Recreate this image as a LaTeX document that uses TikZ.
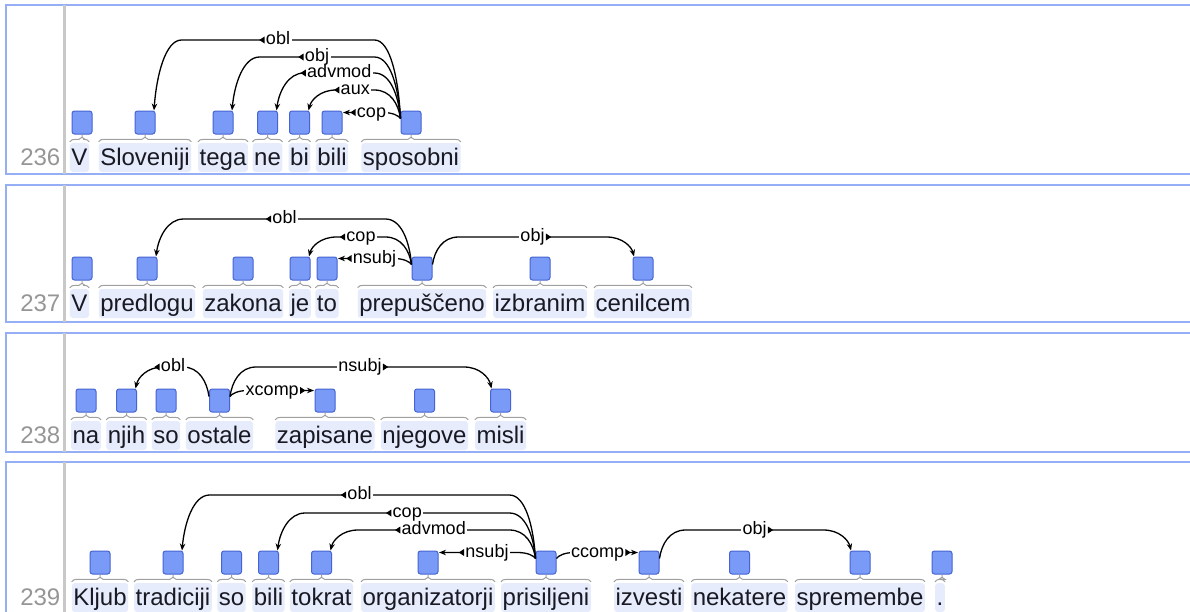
\documentclass[tikz,border=0pt]{standalone}
\usepackage{fontspec}
\setmainfont{Liberation Sans}
\usetikzlibrary{calc,arrows.meta}
\definecolor{panelc}{RGB}{150,174,245}
\definecolor{divc}{RGB}{200,200,200}
\definecolor{wordbg}{RGB}{230,236,252}
\definecolor{tokfill}{RGB}{122,154,247}
\definecolor{tokdraw}{RGB}{70,100,212}
\definecolor{brkc}{RGB}{160,160,160}
\definecolor{numc}{RGB}{150,150,150}
\definecolor{txtc}{RGB}{25,25,35}
\tikzset{
 panel/.style={draw=panelc, line width=2pt, fill=white},
 divider/.style={draw=divc, line width=3pt},
 wordbox/.style={fill=wordbg, rounded corners=3pt, inner xsep=1.5pt, inner ysep=4.5pt, text height=18pt, text depth=2pt, font=\fontsize{24}{28}\selectfont, text=txtc},
 lnum/.style={anchor=east, inner xsep=0pt, inner ysep=4.5pt, text height=18pt, text depth=2pt, font=\fontsize{24}{28}\selectfont, text=numc},
 tokbox/.style={draw=tokdraw, fill=tokfill, line width=1pt, rounded corners=2.5pt, minimum width=20pt, minimum height=23pt, inner sep=0pt},
 brk/.style={draw=brkc, line width=1pt},
 deparc/.style={draw=black, line width=1.3pt, -{Stealth[length=7pt,width=5.5pt]}},
 deplab/.style={fill=white, inner xsep=1.5pt, inner ysep=1pt, text height=9.5pt, text depth=0pt, font=\fontsize{18}{20}\selectfont, text=black},
}
% token: name, node x, word x, node top (px), word
\newcommand\tokx[5]{%
 \node[tokbox] (#1) at (#2,{#4+11.5}) {};
 \node[wordbox] (#1w) at (#3,{#4+46.5}) {#5};
 \draw[brk] let \p1=(#1w.north west), \p2=(#1w.north east), \p3=(#1.south) in
   (\x3,\y3) -- (\x3,\y1+5.5pt)
   (\x1,\y1+1pt) .. controls (\x1+1pt,\y1+3pt) and (\x1+3pt,\y1+3.5pt) .. (\x1+6pt,\y1+3.5pt)
   -- (\x3-3pt,\y1+3.5pt) -- (\x3,\y1+5.5pt) -- (\x3+3pt,\y1+3.5pt) -- (\x2-6pt,\y1+3.5pt)
   .. controls (\x2-3pt,\y1+3.5pt) and (\x2-1pt,\y1+3pt) .. (\x2,\y1+1pt);
}
\newcommand\tok[4]{\tokx{#1}{#2}{#2}{#3}{#4}}
\newcommand\deplabL[4]{%
 \path let \p1=($(#1.north)!0.5!(#2.north)$) in node[deplab] (#1#2l) at (\x1,-#3pt) {#4};
 \fill let \p1=(#1#2l.west) in (\x1+0.3pt,\y1+3.5pt) -- (\x1-5pt,\y1) -- (\x1+0.3pt,\y1-3.5pt) -- cycle;}
\newcommand\deplabR[4]{%
 \path let \p1=($(#1.north)!0.5!(#2.north)$) in node[deplab] (#1#2l) at (\x1,-#3pt) {#4};
 \fill let \p1=(#1#2l.east) in (\x1-0.3pt,\y1+3.5pt) -- (\x1+5pt,\y1) -- (\x1-0.3pt,\y1-3.5pt) -- cycle;}
% arcs: head, dependent, level (px), label
\newcommand\arcLT[4]{%
 \draw[deparc] let \p1=(#1.north west), \p2=(#2.north east) in
  (\x1,\y1-8pt) .. controls (\x1-2pt,{(\y1-8pt-#3pt)/2}) and (\x1-10pt,-#3pt) .. (\x1-26pt,-#3pt)
  -- (\x2+26pt,-#3pt) .. controls (\x2+10pt,-#3pt) and (\x2+1pt,{(\y2-#3pt)/2}) .. (\x2-1.5pt,\y2);
 \deplabL{#1}{#2}{#3}{#4}}
\newcommand\arcLS[4]{%
 \draw[deparc] let \p1=(#1.north west), \p2=(#2.north east) in
  (\x1,\y1-8pt) .. controls (\x1-2pt,{(\y1-8pt-#3pt)/2}) and (\x1-8pt,-#3pt) .. (\x1-18pt,-#3pt) -- (\x2+0.5pt,-#3pt);
 \deplabL{#1}{#2}{#3}{#4}}
\newcommand\arcRT[4]{%
 \draw[deparc] let \p1=(#1.north east), \p2=(#2.north west) in
  (\x1,\y1-8pt) .. controls (\x1+2pt,{(\y1-8pt-#3pt)/2}) and (\x1+10pt,-#3pt) .. (\x1+26pt,-#3pt)
  -- (\x2-26pt,-#3pt) .. controls (\x2-10pt,-#3pt) and (\x2-1pt,{(\y2-#3pt)/2}) .. (\x2+1.5pt,\y2);
 \deplabR{#1}{#2}{#3}{#4}}
\newcommand\arcRS[4]{%
 \draw[deparc] let \p1=(#1.north east), \p2=(#2.north west) in
  (\x1,\y1-8pt) .. controls (\x1+2pt,{(\y1-8pt-#3pt)/2}) and (\x1+8pt,-#3pt) .. (\x1+18pt,-#3pt) -- (\x2-0.5pt,-#3pt);
 \deplabR{#1}{#2}{#3}{#4}}
\newcommand\panelbox[2]{%
 \draw[panel] (6,#1) rectangle (1200,#2);
 \draw[divider] (64,#1) -- (64,#2);}
\begin{document}
\begin{tikzpicture}[x=1pt,y=-1pt]
\useasboundingbox (0,0) rectangle (1190,611);
\clip (0,0) rectangle (1190,611);
\fill[white] (0,0) rectangle (1190,611);
% ---------- 236
\panelbox{5}{174}
\node[lnum] (n236) at (60.5,157.5) {236};
\tokx{a1}{82}{79.5}{111}{V}
\tok{a2}{145}{111}{Sloveniji}
\tok{a3}{223}{111}{tega}
\tok{a4}{267.5}{111}{ne}
\tok{a5}{299.5}{111}{bi}
\tok{a6}{332}{111}{bili}
\tok{a7}{411}{111}{sposobni}
\arcLT{a7}{a2}{40}{obl}
\arcLT{a7}{a3}{57}{obj}
\arcLT{a7}{a4}{73}{advmod}
\arcLT{a7}{a5}{90}{aux}
\arcLS{a7}{a6}{112.5}{cop}
% ---------- 237
\panelbox{185}{322}
\node[lnum] (n237) at (60.5,303.5) {237};
\tokx{b1}{82}{79.5}{257}{V}
\tok{b2}{147}{257}{predlogu}
\tok{b3}{243}{257}{zakona}
\tok{b4}{300}{257}{je}
\tok{b5}{327}{257}{to}
\tok{b6}{422}{257}{prepuščeno}
\tok{b7}{540}{257}{izbranim}
\tok{b8}{643}{257}{cenilcem}
\arcLT{b6}{b2}{219}{obl}
\arcLT{b6}{b4}{237}{cop}
\arcLS{b6}{b5}{258.5}{nsubj}
\arcRT{b6}{b8}{237}{obj}
% ---------- 238
\panelbox{333}{452}
\node[lnum] (n238) at (60.5,435.5) {238};
\tok{c1}{86}{389}{na}
\tok{c2}{126.5}{389}{njih}
\tok{c3}{166}{389}{so}
\tok{c4}{219.5}{389}{ostale}
\tok{c5}{325}{389}{zapisane}
\tok{c6}{424.5}{389}{njegove}
\tok{c7}{500.5}{389}{misli}
\arcLT{c4}{c2}{367}{obl}
\arcRT{c4}{c7}{367}{nsubj}
\arcRS{c4}{c5}{390.5}{xcomp}
% ---------- 239
\panelbox{462}{640}
\node[lnum] (n239) at (60.5,597.5) {239};
\tok{d1}{100}{551}{Kljub}
\tok{d2}{173}{551}{tradiciji}
\tok{d3}{231.5}{551}{so}
\tok{d4}{268.5}{551}{bili}
\tok{d5}{321.5}{551}{tokrat}
\tok{d6}{428}{551}{organizatorji}
\tok{d7}{546}{551}{prisiljeni}
\tok{d8}{649}{551}{izvesti}
\tok{d9}{739.5}{551}{nekatere}
\tok{d10}{860}{551}{spremembe}
\tokx{d11}{942}{940}{551}{.}
\arcLT{d7}{d2}{495}{obl}
\arcLT{d7}{d4}{513}{cop}
\arcLT{d7}{d5}{530}{advmod}
\arcLS{d7}{d6}{552.5}{nsubj}
\arcRS{d7}{d8}{552.5}{ccomp}
\arcRT{d8}{d10}{530}{obj}
\end{tikzpicture}
\end{document}
